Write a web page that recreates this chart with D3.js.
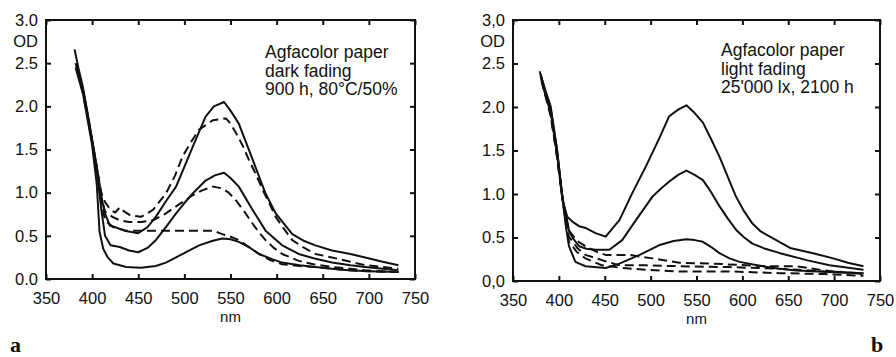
<!DOCTYPE html>
<html>
<head>
<meta charset="utf-8">
<script src="https://cdn.jsdelivr.net/npm/d3@7"></script>
<style>
  html, body { margin: 0; padding: 0; background: #fff; }
  svg { display: block; }
  text { font-family: "Liberation Sans", Arial, Helvetica, sans-serif; fill: #111; }
</style>
</head>
<body>
<svg id="chart" width="896" height="357"></svg>
<script>
// Wavelength axis (nm) and optical density axis ticks
const xTicks = [350, 400, 450, 500, 550, 600, 650, 700, 750];
const yTicks = [0, 0.5, 1.0, 1.5, 2.0, 2.5, 3.0];
const yTickLabelsA = ["0.0", "0.5", "1.0", "1.5", "2.0", "2.5", "3.0"];
const yTickLabelsB = ["0,0", "0.5", "1.0", "1.5", "2.0", "2.5", "3,0"];

// Panel a: dark fading, spectral density curves [nm, OD]
const darkSolidHigh = [[381,2.66],[385,2.45],[390,2.22],[395,1.93],[400,1.62],[405,1.3],[410,0.95],[414,0.76],[419,0.62],[425,0.6],[435,0.56],[450,0.53],[460,0.6],[469,0.72],[480,0.9],[491,1.07],[500,1.3],[509,1.53],[523,1.88],[532,2.0],[543,2.05],[550,1.95],[559,1.8],[568,1.55],[577,1.3],[588,0.99],[599,0.76],[617,0.52],[630,0.44],[642,0.39],[660,0.33],[680,0.29],[696,0.25],[715,0.2],[732,0.16]];
const darkSolidMid = [[382,2.5],[390,2.2],[395,1.9],[400,1.6],[405,1.25],[410,0.8],[414,0.5],[420,0.39],[430,0.37],[440,0.33],[450,0.31],[460,0.36],[469,0.45],[480,0.6],[491,0.76],[500,0.88],[509,0.99],[523,1.14],[533,1.2],[543,1.23],[550,1.17],[559,1.07],[574,0.8],[588,0.56],[606,0.39],[624,0.29],[640,0.24],[660,0.19],[680,0.16],[696,0.14],[732,0.10]];
const darkSolidLow = [[382,2.45],[390,2.15],[395,1.85],[400,1.55],[405,1.1],[408,0.55],[412,0.35],[417,0.25],[423,0.18],[437,0.14],[453,0.13],[469,0.15],[480,0.19],[491,0.25],[505,0.33],[516,0.39],[530,0.44],[541,0.47],[550,0.46],[559,0.43],[570,0.37],[581,0.29],[595,0.23],[606,0.19],[625,0.16],[642,0.14],[660,0.12],[678,0.10],[700,0.09],[732,0.08]];
const darkDashHigh = [[383,2.5],[390,2.2],[395,1.9],[400,1.6],[405,1.3],[410,1.0],[414,0.89],[420,0.8],[425,0.77],[430,0.83],[435,0.78],[441,0.74],[453,0.72],[466,0.8],[480,0.99],[490,1.2],[498,1.42],[508,1.6],[516,1.73],[531,1.84],[545,1.86],[550,1.8],[556,1.69],[563,1.55],[570,1.38],[578,1.2],[585,1.03],[592,0.88],[599,0.72],[608,0.58],[617,0.45],[630,0.36],[642,0.29],[660,0.25],[680,0.2],[696,0.16],[715,0.14],[732,0.12]];
const darkDashMid = [[383,2.45],[390,2.2],[395,1.9],[400,1.6],[405,1.3],[410,0.95],[414,0.78],[422,0.72],[430,0.68],[440,0.66],[453,0.66],[466,0.68],[480,0.76],[495,0.87],[509,0.97],[520,1.03],[531,1.07],[541,1.05],[548,1.0],[556,0.91],[565,0.78],[574,0.64],[581,0.54],[588,0.45],[597,0.36],[606,0.29],[624,0.21],[640,0.17],[660,0.14],[680,0.12],[696,0.10],[732,0.08]];
const darkDashLow = [[384,2.4],[390,2.15],[395,1.88],[400,1.58],[405,1.25],[410,0.9],[414,0.68],[423,0.6],[437,0.56],[453,0.56],[480,0.56],[509,0.56],[531,0.56],[541,0.52],[550,0.49],[559,0.45],[570,0.37],[581,0.29],[593,0.22],[606,0.17],[625,0.15],[642,0.14],[660,0.12],[678,0.10],[700,0.09],[732,0.08]];

// Panel b: light fading, spectral density curves [nm, OD]
const lightSolidHigh = [[379,2.41],[385,2.2],[391,2.01],[398,1.51],[404,0.93],[409,0.74],[415,0.68],[422,0.63],[429,0.61],[440,0.55],[451,0.51],[458,0.6],[466,0.70],[480,1.01],[495,1.32],[509,1.63],[520,1.89],[530,1.97],[539,2.02],[548,1.93],[557,1.82],[566,1.63],[575,1.43],[584,1.2],[593,0.97],[602,0.8],[611,0.66],[620,0.57],[630,0.51],[652,0.38],[677,0.32],[699,0.26],[715,0.21],[732,0.17]];
const lightSolidMid = [[380,2.38],[385,2.18],[391,1.98],[398,1.5],[404,0.95],[409,0.7],[411,0.58],[416,0.48],[422,0.40],[430,0.37],[440,0.36],[455,0.36],[469,0.47],[484,0.70],[502,0.97],[512,1.07],[520,1.14],[530,1.22],[539,1.27],[548,1.22],[557,1.16],[566,1.02],[575,0.86],[584,0.72],[593,0.59],[602,0.50],[611,0.43],[625,0.37],[641,0.32],[670,0.24],[695,0.18],[732,0.13]];
const lightSolidLow = [[380,2.36],[385,2.15],[391,1.95],[398,1.48],[404,0.95],[408,0.6],[411,0.40],[418,0.22],[429,0.17],[451,0.15],[466,0.20],[488,0.30],[509,0.41],[525,0.46],[539,0.48],[548,0.47],[557,0.45],[566,0.39],[575,0.32],[586,0.26],[597,0.22],[622,0.17],[640,0.14],[659,0.12],[700,0.10],[732,0.09]];
const lightDashHigh = [[381,2.32],[386,2.12],[391,1.92],[398,1.45],[404,0.95],[408,0.72],[411,0.58],[420,0.46],[429,0.40],[440,0.34],[451,0.30],[477,0.30],[502,0.26],[531,0.21],[568,0.20],[604,0.18],[630,0.17],[659,0.17],[690,0.12],[732,0.08]];
const lightDashMid = [[381,2.3],[386,2.1],[391,1.9],[398,1.43],[404,0.95],[408,0.68],[411,0.51],[420,0.38],[429,0.30],[447,0.24],[466,0.18],[495,0.18],[531,0.17],[586,0.16],[641,0.14],[690,0.11],[732,0.09]];
const lightDashLow = [[382,2.28],[387,2.08],[392,1.88],[398,1.42],[404,0.93],[408,0.64],[411,0.45],[420,0.33],[429,0.26],[447,0.18],[469,0.15],[495,0.13],[531,0.11],[586,0.11],[641,0.09],[690,0.08],[732,0.06]];

const notesA = ["Agfacolor paper", "dark fading", "900 h, 80°C/50%"];
const notesB = ["Agfacolor paper", "light fading", "25'000 lx, 2100 h"];

const svg = d3.select("#chart");

function drawPanel(cfg) {
  const x = d3.scaleLinear().domain([350, 750]).range([cfg.left, cfg.right]);
  const y = d3.scaleLinear().domain([0, 3]).range([cfg.bottom, cfg.top]);
  const g = svg.append("g");

  const fmt = (d, i) => cfg.yLabels[i];

  // bottom axis with labels, ticks pointing inward
  g.append("g").attr("transform", `translate(0,${cfg.bottom})`)
    .call(d3.axisBottom(x).tickValues(xTicks).tickSize(-5).tickPadding(13).tickFormat(d3.format("d")))
    .call(a => a.select(".domain").remove());
  // top axis, ticks only
  g.append("g").attr("transform", `translate(0,${cfg.top})`)
    .call(d3.axisTop(x).tickValues(xTicks).tickSize(-5).tickFormat(""))
    .call(a => a.select(".domain").remove());
  // left axis with labels
  g.append("g").attr("transform", `translate(${cfg.left},0)`)
    .call(d3.axisLeft(y).tickValues(yTicks).tickSize(-5).tickPadding(8).tickFormat(fmt))
    .call(a => a.select(".domain").remove());
  // right axis, ticks only
  g.append("g").attr("transform", `translate(${cfg.right},0)`)
    .call(d3.axisRight(y).tickValues(yTicks).tickSize(-5).tickFormat(""))
    .call(a => a.select(".domain").remove());

  g.selectAll(".tick line").attr("stroke", "#111").attr("stroke-width", 2);
  g.selectAll(".tick text").attr("font-size", 16.5).attr("fill", "#111")
    .style("font-family", "'Liberation Sans', Arial, sans-serif");

  // frame
  g.append("rect")
    .attr("x", cfg.left).attr("y", cfg.top)
    .attr("width", cfg.right - cfg.left).attr("height", cfg.bottom - cfg.top)
    .attr("fill", "none").attr("stroke", "#111").attr("stroke-width", 2);

  // OD label under the top tick
  g.append("text").attr("x", cfg.left - 8).attr("y", y(3) + 22)
    .attr("dy", "0.32em").attr("text-anchor", "end").attr("font-size", 16.5).text("OD");

  // nm label
  g.append("text").attr("x", x(550)).attr("y", cfg.bottom + 38)
    .attr("dy", "0.32em").attr("text-anchor", "middle").attr("font-size", 15).text("nm");

  const line = d3.line().x(d => x(d[0])).y(d => y(d[1]));

  cfg.series.forEach(s => {
    g.append("path").datum(s.data)
      .attr("d", line)
      .attr("fill", "none")
      .attr("stroke", "#111")
      .attr("stroke-width", 2)
      .attr("stroke-linejoin", "round")
      .attr("stroke-dasharray", s.dashed ? "9,5" : null);
  });

  // annotation
  const t = g.append("text").attr("x", cfg.noteX).attr("y", cfg.noteY).attr("font-size", 17.5);
  cfg.notes.forEach((n, i) => {
    t.append("tspan").attr("x", cfg.noteX).attr("dy", i === 0 ? 0 : 18.5).text(n);
  });
}

drawPanel({
  left: 46, right: 415, top: 20, bottom: 279,
  yLabels: yTickLabelsA,
  notes: notesA, noteX: 265, noteY: 58,
  series: [
    { data: darkSolidHigh, dashed: false },
    { data: darkSolidMid, dashed: false },
    { data: darkSolidLow, dashed: false },
    { data: darkDashHigh, dashed: true },
    { data: darkDashMid, dashed: true },
    { data: darkDashLow, dashed: true }
  ]
});

drawPanel({
  left: 513, right: 880, top: 20, bottom: 281,
  yLabels: yTickLabelsB,
  notes: notesB, noteX: 721, noteY: 56,
  series: [
    { data: lightSolidHigh, dashed: false },
    { data: lightSolidMid, dashed: false },
    { data: lightSolidLow, dashed: false },
    { data: lightDashHigh, dashed: true },
    { data: lightDashMid, dashed: true },
    { data: lightDashLow, dashed: true }
  ]
});

// panel letters
svg.append("text").attr("x", 10).attr("y", 352)
  .style("font-family", "'Liberation Serif', 'Times New Roman', serif")
  .attr("font-weight", "bold").attr("font-size", 22).text("a");
svg.append("text").attr("x", 871).attr("y", 352)
  .style("font-family", "'Liberation Serif', 'Times New Roman', serif")
  .attr("font-weight", "bold").attr("font-size", 22).text("b");
</script>
</body>
</html>
